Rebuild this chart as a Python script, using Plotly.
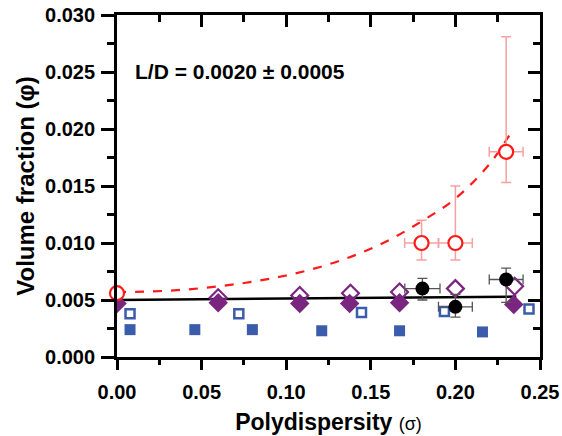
import plotly.graph_objects as go

# ---- data ----
sq_fill_x = [0.0077, 0.046, 0.080, 0.121, 0.167, 0.216]
sq_fill_y = [0.0024, 0.0024, 0.0024, 0.0023, 0.0023, 0.0022]

sq_open_x = [0.0077, 0.072, 0.1445, 0.1935, 0.2435]
sq_open_y = [0.0038, 0.0038, 0.0039, 0.0040, 0.0042]

dia_fill_x = [0.0, 0.0598, 0.108, 0.1375, 0.167, 0.2345]
dia_fill_y = [0.0047, 0.00475, 0.0047, 0.0047, 0.00475, 0.0046]

dia_open_x = [0.0598, 0.108, 0.138, 0.167, 0.200, 0.235]
dia_open_y = [0.0052, 0.0054, 0.0056, 0.0057, 0.0060, 0.0062]

blk_x = [0.1805, 0.200, 0.230]
blk_y = [0.0060, 0.0044, 0.0068]
blk_err_plus = [0.0009, 0.0011, 0.0010]
blk_err_minus = [0.0010, 0.0009, 0.0020]
blk_xerr = [0.0104, 0.010, 0.010]

red_x = [0.0, 0.180, 0.200, 0.230]
red_y = [0.0056, 0.0100, 0.0100, 0.0180]
red_err_plus = [0.0, 0.0020, 0.0050, 0.0101]
red_err_minus = [0.0, 0.0015, 0.0015, 0.0027]
red_xerr = [0.0, 0.010, 0.010, 0.010]

fit_red_x = [0.0, 0.02, 0.04, 0.06, 0.08, 0.10, 0.12, 0.14, 0.16, 0.18, 0.20, 0.22, 0.2325]
fit_red_y = [0.00570, 0.00575, 0.00591, 0.00620, 0.00660, 0.00715, 0.00790, 0.00889,
             0.01020, 0.01190, 0.01390, 0.01690, 0.01960]

fit_blk_x = [0.0, 0.236]
fit_blk_y = [0.0050, 0.0053]

x_ticks = [0.00, 0.05, 0.10, 0.15, 0.20, 0.25]
y_ticks = [0.000, 0.005, 0.010, 0.015, 0.020, 0.025, 0.030]

BLUE = "#3b5bab"
PURPLE = "#7a2680"
RED = "#ff1a1a"
PINK = "#f7a0a0"
FONT = "Liberation Sans, Arial, sans-serif"

fig = go.Figure()

fig.add_trace(go.Scatter(x=fit_red_x, y=fit_red_y, mode="lines", line_shape="spline",
                         line=dict(color=RED, width=2.2, dash="dash"), showlegend=False))
fig.add_trace(go.Scatter(x=fit_blk_x, y=fit_blk_y, mode="lines",
                         line=dict(color="black", width=2.5), showlegend=False))

fig.add_trace(go.Scatter(x=sq_fill_x, y=sq_fill_y, mode="markers",
                         marker=dict(symbol="square", size=11, color=BLUE,
                                     line=dict(width=0)), showlegend=False))
fig.add_trace(go.Scatter(x=sq_open_x, y=sq_open_y, mode="markers",
                         marker=dict(symbol="square-open", size=9, color=BLUE,
                                     line=dict(width=2.5, color=BLUE)), showlegend=False))
fig.add_trace(go.Scatter(x=dia_fill_x, y=dia_fill_y, mode="markers",
                         marker=dict(symbol="diamond", size=15, color=PURPLE,
                                     line=dict(width=0)), showlegend=False))
fig.add_trace(go.Scatter(x=dia_open_x, y=dia_open_y, mode="markers",
                         marker=dict(symbol="diamond-open", size=13, color=PURPLE,
                                     line=dict(width=2.2, color=PURPLE)), showlegend=False))

fig.add_trace(go.Scatter(x=blk_x, y=blk_y, mode="markers",
                         marker=dict(symbol="circle", size=14, color="black"),
                         error_y=dict(type="data", symmetric=False, array=blk_err_plus,
                                      arrayminus=blk_err_minus, color="#555555",
                                      thickness=1.3, width=5),
                         error_x=dict(type="data", array=blk_xerr, color="#555555",
                                      thickness=1.3, width=5),
                         showlegend=False))

fig.add_trace(go.Scatter(x=red_x, y=red_y, mode="markers", cliponaxis=False,
                         marker=dict(symbol="circle", size=14, color="white",
                                     line=dict(width=2.2, color=RED)),
                         error_y=dict(type="data", symmetric=False, array=red_err_plus,
                                      arrayminus=red_err_minus, color=PINK,
                                      thickness=1.5, width=5),
                         error_x=dict(type="data", array=red_xerr, color=PINK,
                                      thickness=1.5, width=5),
                         showlegend=False))

# invisible trace to anchor the mirrored axes
fig.add_trace(go.Scatter(x=[0.1], y=[0.01], xaxis="x2", yaxis="y2", mode="markers",
                         marker=dict(opacity=0), hoverinfo="skip", showlegend=False))

axis_common = dict(showgrid=False, zeroline=False, linecolor="black", linewidth=2.8,
                   tickcolor="black", tickwidth=2.8, automargin=False)

fig.update_layout(
    width=562, height=436,
    margin=dict(l=117, r=22, t=15, b=79),
    paper_bgcolor="white", plot_bgcolor="white",
    font=dict(family=FONT, color="black"),
    xaxis=dict(range=[0, 0.25], tickvals=x_ticks, ticktext=[f"{v:.2f}" for v in x_ticks],
               ticks="outside", ticklen=10, ticklabelstandoff=5,
               minor=dict(dtick=0.025, tick0=0, ticks="outside", ticklen=5,
                          tickwidth=2.8, tickcolor="black"),
               tickfont=dict(size=20, family=FONT, weight="bold"),
               title=dict(text="<b>Polydispersity</b> <span style='font-size:18px'>(σ)</span>",
                          font=dict(size=23, family=FONT), standoff=12),
               **axis_common),
    yaxis=dict(range=[0, 0.030], tickvals=y_ticks, ticktext=[f"{v:.3f}" for v in y_ticks],
               ticks="outside", ticklen=13, ticklabelstandoff=2,
               minor=dict(dtick=0.0025, tick0=0, ticks="outside", ticklen=7,
                          tickwidth=2.8, tickcolor="black"),
               tickfont=dict(size=20, family=FONT, weight="bold"),
               title=dict(text="<b>Volume fraction (φ)</b>",
                          font=dict(size=24, family=FONT), standoff=4),
               **axis_common),
    xaxis2=dict(range=[0, 0.25], overlaying="x", side="top", tickvals=x_ticks,
                showticklabels=False, ticks="inside", ticklen=12,
                minor=dict(dtick=0.025, tick0=0, ticks="inside", ticklen=7,
                           tickwidth=2.8, tickcolor="black"),
                anchor="y2", **axis_common),
    yaxis2=dict(range=[0, 0.030], overlaying="y", side="right", tickvals=y_ticks,
                showticklabels=False, ticks="inside", ticklen=12,
                minor=dict(dtick=0.0025, tick0=0, ticks="inside", ticklen=7,
                           tickwidth=2.8, tickcolor="black"),
                anchor="x2", **axis_common),
    annotations=[dict(text="<b>L/D = 0.0020 ± 0.0005</b>", xref="paper", yref="paper",
                      x=0.037, y=0.835, xanchor="left", yanchor="middle", showarrow=False,
                      font=dict(size=21, family=FONT, color="black"))],
)

fig.write_html("out.html", config={"displayModeBar": False},
               post_script="document.body.style.margin='0';document.body.style.overflow='hidden';")
